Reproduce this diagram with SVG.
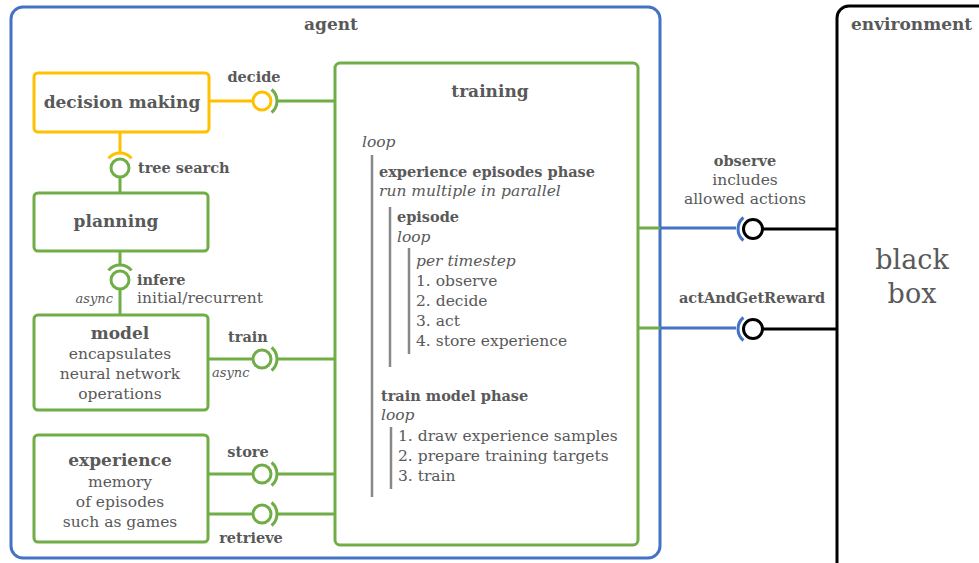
<svg xmlns="http://www.w3.org/2000/svg" width="979" height="563" viewBox="0 0 979 563">
<style>
text{font-family:"DejaVu Serif","Liberation Serif",serif;fill:#595959;font-size:15.5px}
.b{font-weight:bold;font-size:14.5px}
.i{font-style:italic}
.t{font-size:17px;font-weight:bold}
.h{font-size:17px;font-weight:bold}
.big{font-size:27px}
.s{font-size:13px;font-style:italic}
.m{text-anchor:middle}
.g{stroke:#70AD47;stroke-width:3;fill:none}
.y{stroke:#FFC000;stroke-width:3;fill:none}
.bl{stroke:#4472C4;stroke-width:3;fill:none}
.k{stroke:#000;stroke-width:3;fill:none}
.bar{stroke:#888;stroke-width:2.5}
.ball{fill:#fff}
</style>
<g id="agent">
<rect x="11" y="7" width="649" height="551" rx="12" class="bl"/>
<text x="331" y="30" class="h m">agent</text>
</g>
<g id="environment">
<rect x="837" y="6" width="200" height="600" rx="12" class="k"/>
<text x="851" y="30" class="h">environment</text>
<text x="912" y="269" class="big m">black</text>
<text x="912" y="303" class="big m">box</text>
</g>
<g id="decision-making">
<rect x="34" y="73" width="175" height="59" rx="4" class="y"/>
<text x="122" y="108" class="t m">decision making</text>
</g>
<g id="planning">
<rect x="34" y="193" width="174" height="58" rx="4" class="g"/>
<text x="116" y="227" class="t m">planning</text>
</g>
<g id="model">
<rect x="34" y="315" width="174" height="95" rx="4" class="g"/>
<text x="120" y="339" class="t m">model</text>
<text x="120" y="359" class="m">encapsulates</text>
<text x="120" y="379" class="m">neural network</text>
<text x="120" y="399" class="m">operations</text>
</g>
<g id="experience">
<rect x="34" y="435" width="174" height="107" rx="4" class="g"/>
<text x="120" y="466" class="t m">experience</text>
<text x="120" y="487" class="m">memory</text>
<text x="120" y="507" class="m">of episodes</text>
<text x="120" y="527" class="m">such as games</text>
</g>
<g id="training">
<rect x="335" y="63" width="303" height="482" rx="5" class="g"/>
<text x="490" y="97" class="t m">training</text>
<text x="362" y="147" class="i">loop</text>
<line x1="372" y1="155" x2="372" y2="497" class="bar"/>
<text x="379" y="177" class="b">experience episodes phase</text>
<text x="379" y="196" class="i">run multiple in parallel</text>
<line x1="390" y1="207" x2="390" y2="367" class="bar"/>
<text x="397" y="222" class="b">episode</text>
<text x="397" y="242" class="i">loop</text>
<line x1="409" y1="248" x2="409" y2="354" class="bar"/>
<text x="416" y="266" class="i">per timestep</text>
<text x="416" y="286">1. observe</text>
<text x="416" y="306">2. decide</text>
<text x="416" y="326">3. act</text>
<text x="416" y="346">4. store experience</text>
<text x="381" y="401" class="b">train model phase</text>
<text x="381" y="420" class="i">loop</text>
<line x1="391" y1="427" x2="391" y2="489" class="bar"/>
<text x="398" y="441">1. draw experience samples</text>
<text x="398" y="461">2. prepare training targets</text>
<text x="398" y="481">3. train</text>
</g>
<g id="connectors">
<line x1="209" y1="101" x2="253" y2="101" class="y"/>
<circle cx="262" cy="101" r="9" class="y ball"/>
<path d="M271.6 89.5 A15 15 0 0 1 271.6 112.5" class="g"/>
<line x1="278" y1="101" x2="335" y2="101" class="g"/>
<text x="254" y="82" class="b m">decide</text>
<line x1="120" y1="132" x2="120" y2="154" class="y"/>
<path d="M108.5 158.4 A15 15 0 0 1 131.5 158.4" class="y"/>
<circle cx="120" cy="168" r="9" class="g ball"/>
<line x1="120" y1="177" x2="120" y2="193" class="g"/>
<text x="138" y="173" class="b">tree search</text>
<line x1="120" y1="251" x2="120" y2="266" class="g"/>
<path d="M108.5 270.4 A15 15 0 0 1 131.5 270.4" class="g"/>
<circle cx="120" cy="280" r="9" class="g ball"/>
<line x1="120" y1="289" x2="120" y2="315" class="g"/>
<text x="137" y="285" class="b">infere</text>
<text x="137" y="303">initial/recurrent</text>
<text x="113" y="303" class="s" text-anchor="end">async</text>
<line x1="208" y1="359" x2="253" y2="359" class="g"/>
<circle cx="262" cy="359" r="9" class="g ball"/>
<path d="M271.6 347.5 A15 15 0 0 1 271.6 370.5" class="g"/>
<line x1="278" y1="359" x2="335" y2="359" class="g"/>
<text x="248" y="342" class="b m">train</text>
<text x="212" y="377" class="s">async</text>
<line x1="208" y1="474" x2="253" y2="474" class="g"/>
<circle cx="262" cy="474" r="9" class="g ball"/>
<path d="M271.6 462.5 A15 15 0 0 1 271.6 485.5" class="g"/>
<line x1="278" y1="474" x2="335" y2="474" class="g"/>
<text x="248" y="457" class="b m">store</text>
<line x1="208" y1="514" x2="253" y2="514" class="g"/>
<circle cx="262" cy="514" r="9" class="g ball"/>
<path d="M271.6 502.5 A15 15 0 0 1 271.6 525.5" class="g"/>
<line x1="278" y1="514" x2="335" y2="514" class="g"/>
<text x="251" y="543" class="b m">retrieve</text>
<line x1="638" y1="228" x2="660" y2="228" class="g"/>
<line x1="660" y1="228" x2="736" y2="228" class="bl"/>
<path d="M743.4 240.5 A15 15 0 0 1 743.4 217.5" class="bl"/>
<circle cx="753" cy="229" r="9.5" class="k ball"/>
<line x1="762.5" y1="229" x2="837" y2="229" class="k"/>
<text x="745" y="166" class="b m">observe</text>
<text x="745" y="185" class="m">includes</text>
<text x="745" y="204" class="m">allowed actions</text>
<line x1="638" y1="328" x2="660" y2="328" class="g"/>
<line x1="660" y1="328" x2="736" y2="328" class="bl"/>
<path d="M743.4 340.5 A15 15 0 0 1 743.4 317.5" class="bl"/>
<circle cx="753" cy="329" r="9.5" class="k ball"/>
<line x1="762.5" y1="329" x2="837" y2="329" class="k"/>
<text x="752" y="303" class="b m">actAndGetReward</text>
</g>
</svg>
